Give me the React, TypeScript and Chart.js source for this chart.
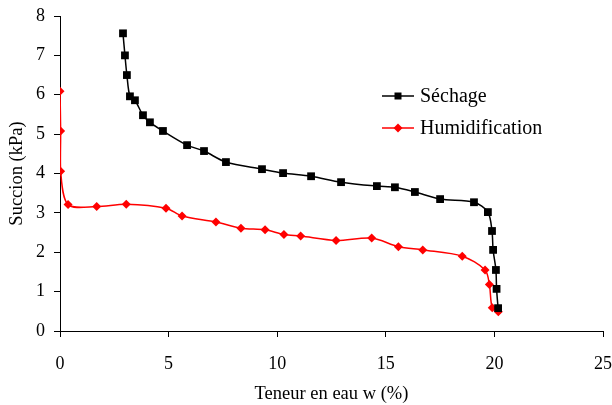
import React, { useEffect, useRef } from "react";
import { Chart, registerables } from "chart.js";

Chart.register(...registerables);

const sechageW = [2.9, 2.99, 3.08, 3.22, 3.45, 3.82, 4.14, 4.74, 5.85, 6.63, 7.64, 9.3, 10.27, 11.56, 12.94, 14.59, 15.42, 16.34, 17.5, 19.06, 19.7, 19.89, 19.94, 20.07, 20.1, 20.17];
const sechageS = [7.56, 7.0, 6.5, 5.96, 5.86, 5.48, 5.3, 5.08, 4.72, 4.57, 4.29, 4.11, 4.01, 3.93, 3.78, 3.68, 3.65, 3.53, 3.35, 3.27, 3.02, 2.54, 2.06, 1.55, 1.07, 0.58];

const humidW = [0.0, 0.03, 0.03, 0.37, 1.69, 3.05, 4.88, 5.62, 7.18, 8.33, 9.44, 10.31, 11.08, 12.71, 14.35, 15.58, 16.7, 18.52, 19.57, 19.77, 19.9, 20.18];
const humidS = [6.09, 5.08, 4.06, 3.21, 3.16, 3.22, 3.12, 2.92, 2.77, 2.61, 2.57, 2.45, 2.41, 2.3, 2.36, 2.14, 2.06, 1.9, 1.55, 1.18, 0.59, 0.49];

const seriesNames = ["Séchage", "Humidification"];
const xTitle = "Teneur en eau w (%)";
const yTitle = "Succion (kPa)";

const FONT = "'Liberation Serif', 'Times New Roman', serif";

const legendPlugin = {
  id: "customLegend",
  afterDraw(chart: any) {
    const ctx = chart.ctx;
    const items = [
      { y: 96, color: "#000000", style: "rect" },
      { y: 128, color: "#ff0000", style: "rectRot" },
    ];
    ctx.save();
    items.forEach((it, i) => {
      ctx.strokeStyle = it.color;
      ctx.lineWidth = 1.5;
      ctx.beginPath();
      ctx.moveTo(382, it.y);
      ctx.lineTo(414, it.y);
      ctx.stroke();
      ctx.fillStyle = it.color;
      ctx.beginPath();
      if (it.style === "rect") {
        ctx.rect(398 - 3.5, it.y - 3.5, 7, 7);
      } else {
        ctx.moveTo(398 - 4.5, it.y);
        ctx.lineTo(398, it.y - 4.5);
        ctx.lineTo(398 + 4.5, it.y);
        ctx.lineTo(398, it.y + 4.5);
        ctx.closePath();
      }
      ctx.fill();
      ctx.fillStyle = "#000000";
      ctx.font = `20px ${FONT}`;
      ctx.textBaseline = "middle";
      ctx.textAlign = "left";
      ctx.fillText(seriesNames[i], 420, it.y + 1);
    });
    ctx.restore();
  },
};

export default function App() {
  const ref = useRef<HTMLCanvasElement | null>(null);
  useEffect(() => {
    if (!ref.current) return;
    const chart = new Chart(ref.current, {
      type: "line",
      data: {
        datasets: [
          {
            label: seriesNames[0],
            data: sechageW.map((w, i) => ({ x: w, y: sechageS[i] })),
            borderColor: "#000000",
            backgroundColor: "#000000",
            borderWidth: 1.5,
            pointStyle: "rect",
            pointRadius: 5.5,
            pointBorderWidth: 0,
            tension: 0.3,
          },
          {
            label: seriesNames[1],
            data: humidW.map((w, i) => ({ x: w, y: humidS[i] })),
            borderColor: "#ff0000",
            backgroundColor: "#ff0000",
            borderWidth: 1.5,
            pointStyle: "rectRot",
            pointRadius: 4.5,
            pointBorderWidth: 0,
            tension: 0.3,
          },
        ],
      },
      options: {
        animation: false,
        responsive: false,
        devicePixelRatio: 1,
        layout: { padding: { top: 16, right: 9, left: 0, bottom: 0 } },
        plugins: { legend: { display: false }, tooltip: { enabled: false } },
        scales: {
          x: {
            type: "linear",
            min: 0,
            max: 25,
            ticks: { stepSize: 5, color: "#000", font: { family: FONT, size: 18 }, padding: 16, maxRotation: 0 },
            grid: { drawOnChartArea: false, tickLength: 6, color: "#000" },
            border: { color: "#000", width: 1 },
            title: { display: true, text: xTitle, color: "#000", font: { family: FONT, size: 18.5 }, padding: { top: 0, bottom: 0 } },
            afterFit: (s: any) => { s.height = 74; s.paddingRight = 0; s.paddingLeft = 0; },
          },
          y: {
            type: "linear",
            min: 0,
            max: 8,
            ticks: { stepSize: 1, color: "#000", font: { family: FONT, size: 18 }, padding: 9 },
            grid: { drawOnChartArea: false, tickLength: 6, color: "#000" },
            border: { color: "#000", width: 1 },
            title: { display: true, text: yTitle, color: "#000", font: { family: FONT, size: 18.5 }, padding: { top: 6, bottom: 0 } },
            afterFit: (s: any) => { s.width = 60; s.paddingTop = 0; s.paddingBottom = 0; },
          },
        },
      },
      plugins: [legendPlugin],
    } as any);
    return () => chart.destroy();
  }, []);
  return (
    <div style={{ position: "absolute", left: 0, top: 0, width: 612, height: 405, background: "#fff" }}>
      <canvas ref={ref} width={612} height={405} style={{ width: 612, height: 405, display: "block" }} />
    </div>
  );
}
